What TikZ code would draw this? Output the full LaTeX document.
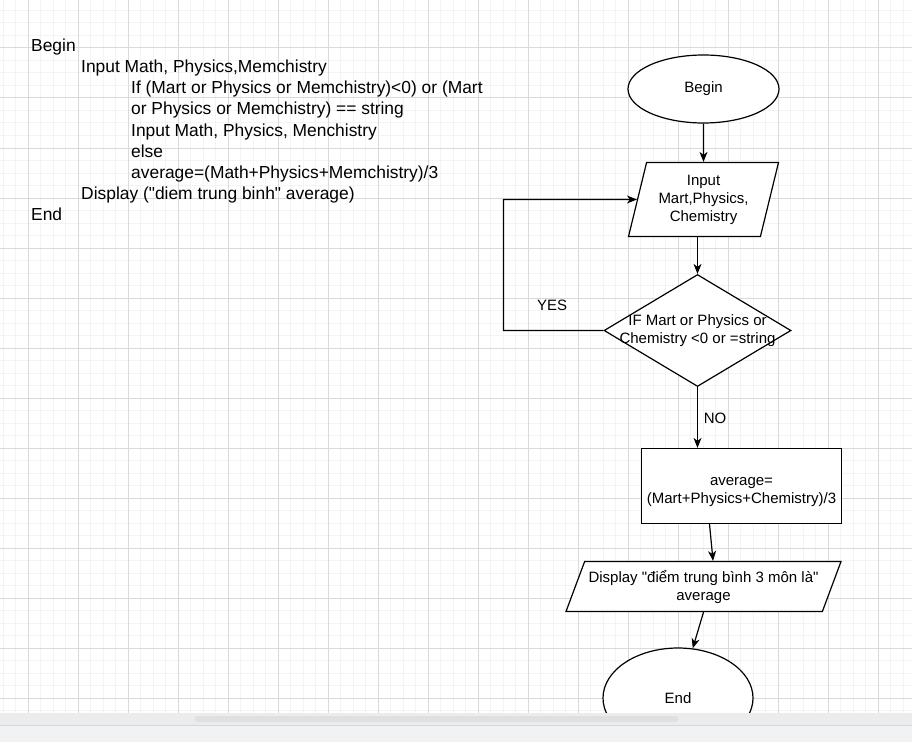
\documentclass[tikz,border=0pt]{standalone}
\usepackage{fontspec}
\setmainfont{Liberation Sans}[Ligatures=TeXOff]
\usetikzlibrary{shapes.geometric,arrows.meta}

\definecolor{gridminor}{RGB}{244,244,244}
\definecolor{gridmajor}{RGB}{218,218,218}
\definecolor{barband}{RGB}{236,236,236}
\definecolor{barthumb}{RGB}{224,224,224}
\definecolor{barline}{RGB}{214,214,214}
\definecolor{barbase}{RGB}{241,242,244}

\tikzset{
  code/.style={anchor=base west, inner sep=0pt, font=\fontsize{17.4}{21}\selectfont},
  chart/.style={draw, line width=1.2pt, fill=white, font=\fontsize{15}{18}\selectfont, align=center},
  terminal/.style={chart, ellipse, inner sep=0pt},
  io/.style={chart, trapezium, trapezium stretches body, inner sep=2pt},
  decision/.style={chart, diamond, inner sep=0pt, aspect=1.67},
  process/.style={chart, rectangle, inner sep=2pt, minimum width=200pt, minimum height=75pt},
  flow/.style={line width=1.2pt, -{Stealth[length=10pt,width=8pt,inset=3pt]}},
  note/.style={font=\fontsize{15}{18}\selectfont},
}

\begin{document}
\begin{tikzpicture}[x=1pt, y=-1pt]
  \useasboundingbox (0,0) rectangle (912,741);
  \fill[white] (0,0) rectangle (912,741);

  % grid
  \foreach \x in {3,15.5,...,912} \draw[gridminor, line width=1pt] (\x,0) -- (\x,713);
  \foreach \y in {10.5,23,...,713} \draw[gridminor, line width=1pt] (0,\y) -- (912,\y);
  \foreach \x in {28,78,...,912} \draw[gridmajor, line width=1pt] (\x,0) -- (\x,713);
  \foreach \y in {48,98,...,713} \draw[gridmajor, line width=1pt] (0,\y) -- (912,\y);

  % pseudocode
  \node[code] (l1) at (31,52) {Begin};
  \node[code] (l2) at (81,73) {Input Math, Physics,Memchistry};
  \node[code] (l3) at (131,94) {If (Mart or Physics or Memchistry)<0) or (Mart};
  \node[code] (l4) at (131,115) {or Physics or Memchistry) == string};
  \node[code] (l5) at (131,136) {Input Math, Physics, Menchistry};
  \node[code] (l6) at (131,157) {else};
  \node[code] (l7) at (131,178) {average=(Math+Physics+Memchistry)/3};
  \node[code] (l8) at (81,199) {Display ("diem trung binh" average)};
  \node[code] (l9) at (31,220) {End};

  % flowchart
  \node[terminal, minimum width=151pt, minimum height=68pt] (begin) at (703.5,89) {Begin};
  \node[io, trapezium left angle=71.3, trapezium right angle=108.7,
        minimum width=150pt, minimum height=74pt] (input) at (703.5,199.5) {Input\\Mart,Physics,\\Chemistry};
  \node[decision, minimum width=187pt, minimum height=112pt] (cond) at (697.5,330.5)
    {\makebox[0pt]{IF Mart or Physics or}\\\makebox[0pt]{Chemistry <0 or =string}};
  \node[process] (calc) at (741.5,486) {\rule{0pt}{21pt}average=\\(Mart+Physics+Chemistry)/3};
  \node[io, trapezium left angle=63.4, trapezium right angle=116.6,
        minimum width=275pt, minimum height=50pt] (display) at (703.5,586.5)
    {Display "điểm trung bình 3 môn là"\\average};
  \node[terminal, minimum width=150pt, minimum height=100pt] (end) at (678,698) {End};

  \node[note] (yes) at (552,305) {YES};
  \node[note] (no) at (715,418) {NO};
  \coordinate (back) at (503.5,199.5);

  \draw[flow] (begin) -- (input);
  \draw[flow] (input.bottom side -| cond.north) -- (cond.north);
  \draw[flow] (cond.west) -| (back) -- (input);
  \draw[flow] (cond.south) -- (cond.south |- calc.north);
  \draw[flow] ([xshift=-32pt]calc.south) -- (display.top side);
  \draw[flow] (display.center |- display.bottom side) -- (end);

  % scroll bar
  \fill[barband] (0,713) rectangle (912,725);
  \fill[barthumb, rounded corners=2pt] (195,716) rectangle (678,722);
  \draw[barline, line width=1pt] (0,725.5) -- (912,725.5);
  \fill[barbase] (0,726) rectangle (912,760);
\end{tikzpicture}
\end{document}
